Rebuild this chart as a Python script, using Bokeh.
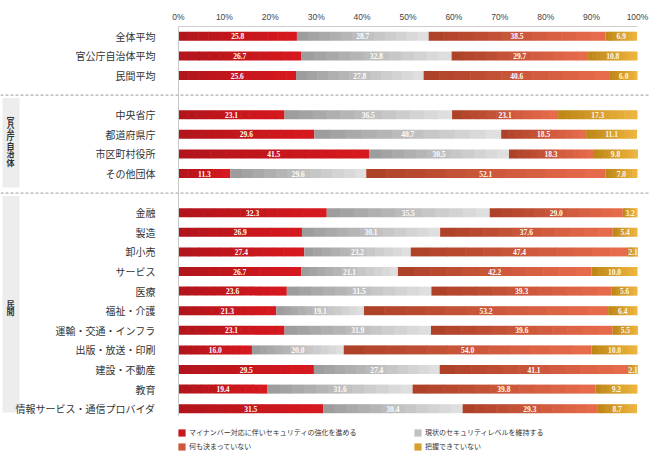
import numpy as np
from bokeh.plotting import figure
from bokeh.models import ColumnDataSource, FixedTicker, Range1d, Legend, LegendItem
from bokeh.core.properties import value
from bokeh.embed import file_html
from bokeh.resources import INLINE

# ---------------- data ----------------
categories = ["全体平均", "官公庁自治体平均", "民間平均",
              "中央省庁", "都道府県庁", "市区町村役所", "その他団体",
              "金融", "製造", "卸小売", "サービス", "医療", "福祉・介護",
              "運輸・交通・インフラ", "出版・放送・印刷", "建設・不動産", "教育",
              "情報サービス・通信プロバイダ"]
group_sizes = [3, 4, 11]
group_names = [None, "官公庁自治体", "民間"]

series_names = ["マイナンバー対応に伴いセキュリティの強化を進める",
                "現状のセキュリティレベルを維持する",
                "何も決まっていない",
                "把握できていない"]
strengthen = [25.8, 26.7, 25.6, 23.1, 29.6, 41.5, 11.3, 32.3, 26.9, 27.4, 26.7, 23.6, 21.3, 23.1, 16.0, 29.5, 19.4, 31.5]
maintain   = [28.7, 32.8, 27.8, 36.5, 40.7, 30.5, 29.6, 35.5, 30.1, 23.2, 21.1, 31.5, 19.1, 31.9, 20.0, 27.4, 31.6, 30.4]
undecided  = [38.5, 29.7, 40.6, 23.1, 18.5, 18.3, 52.1, 29.0, 37.6, 47.4, 42.2, 39.3, 53.2, 39.6, 54.0, 41.1, 39.8, 29.3]
unknown    = [6.9, 10.8, 6.0, 17.3, 11.1, 9.8, 7.0, 3.2, 5.4, 2.1, 10.0, 5.6, 6.4, 5.5, 10.0, 2.1, 9.2, 8.7]
series_values = [strengthen, maintain, undecided, unknown]

x_ticks = [0, 10, 20, 30, 40, 50, 60, 70, 80, 90, 100]
x_tick_labels = ["0%", "10%", "20%", "30%", "40%", "50%", "60%", "70%", "80%", "90%", "100%"]

# ---------------- styles / layout constants ----------------
grad_left = ["#b0151b", "#9a9a9a", "#ab4027", "#bc8515"]
grad_right = ["#d8181f", "#e2e2e2", "#e96d4d", "#efb640"]
label_colors = ["#ffffff", "#ffffff", "#ffffff", "#fff8e8"]

W, H = 650, 458
TOP = 26            # height of the top axis panel
PLOT_L, PLOT_R = 178, 637   # pixel span of 0%..100%
ROW_PX = 19.6
CHAR_PX = 8.4       # pitch of the stacked vertical group-label characters
px_per_unit = (PLOT_R - PLOT_L) / 100.0
x_start = -PLOT_L / px_per_unit
x_end = 100 + (W - PLOT_R) / px_per_unit
y_top = -0.5
y_bottom = y_top + (H - TOP) / ROW_PX


def px_to_x(px):
    return x_start + px / px_per_unit


# ---------------- row positions ----------------
ypos, gap_positions, group_spans = [], [], []
pos = 0
for size in group_sizes:
    start = pos
    for _ in range(size):
        ypos.append(pos)
        pos += 1
    group_spans.append((start, pos - 1))
    gap_positions.append(pos)
    pos += 1
gap_positions = gap_positions[:-1]

p = figure(width=W, height=H,
           x_range=Range1d(x_start, x_end), y_range=Range1d(y_bottom, y_top),
           x_axis_location="above", y_axis_location=None,
           toolbar_location=None, output_backend="svg",
           min_border_left=0, min_border_right=0, min_border_top=TOP, min_border_bottom=0)
p.outline_line_color = None
p.xgrid.visible = False
p.ygrid.visible = False


def hex2rgb(h):
    h = h.lstrip("#")
    return np.array([int(h[i:i + 2], 16) for i in (0, 2, 4)], dtype=float)


def rgb2hex(c):
    return "#%02x%02x%02x" % tuple(int(round(v)) for v in c)


# ---------------- group strips & separators ----------------
for name, (a, b) in zip(group_names, group_spans):
    if name is None:
        continue
    bottom = b + 0.72 if b < ypos[-1] else b + 0.2
    p.quad(left=[px_to_x(2)], right=[px_to_x(19)], top=[a - 0.85], bottom=[bottom],
           fill_color="#ededed", line_color=None)
    n = len(name)
    centre = (a + b) / 2 - 0.15
    step = CHAR_PX / ROW_PX
    cy = [centre + (j - (n - 1) / 2) * step for j in range(n)]
    p.text(x=[px_to_x(10)] * n, y=cy, text=list(name),
           text_align="center", text_baseline="middle",
           text_font=value("Noto Sans CJK JP"), text_font_size="8px",
           text_font_style="bold", text_color="#333333")

p.segment(x0=[x_start] * len(gap_positions), x1=[x_end] * len(gap_positions),
          y0=gap_positions, y1=gap_positions,
          line_color="#9a9a9a", line_dash="3 2", line_width=1)

# ---------------- stacked bars with per-segment gradient ----------------
K = 12
BAR_H = 0.46
cum = np.zeros(len(categories))
renderers = []
text_x, text_y, text_s, text_c = [], [], [], []
for s, vals in enumerate(series_values):
    vals = np.array(vals, dtype=float)
    cl, cr = hex2rgb(grad_left[s]), hex2rgb(grad_right[s])
    lefts, rights, ys, cols = [], [], [], []
    for k in range(K):
        col = rgb2hex(cl + (cr - cl) * (k + 0.5) / K)
        for i, v in enumerate(vals):
            a = cum[i] + v * k / K
            b = cum[i] + v * (k + 1) / K
            if k < K - 1:
                b += 0.12
            lefts.append(a)
            rights.append(b)
            ys.append(ypos[i])
            cols.append(col)
    src = ColumnDataSource(dict(left=lefts, right=rights, y=ys, color=cols))
    r = p.hbar(y="y", left="left", right="right", height=BAR_H, source=src,
               fill_color="color", line_color=None)
    renderers.append(r)
    for i, v in enumerate(vals):
        text_x.append(cum[i] + v / 2)
        text_y.append(ypos[i])
        text_s.append(f"{v:.1f}")
        text_c.append(label_colors[s])
    cum += vals

tsrc = ColumnDataSource(dict(x=text_x, y=text_y, text=text_s, color=text_c))
p.text(x="x", y="y", text="text", source=tsrc, text_color="color",
       text_font=value("Liberation Sans Narrow"), text_font_size="7.5px",
       text_font_style="bold", text_align="center", text_baseline="middle")

# vertical base line at 0%
p.segment(x0=[0], x1=[0], y0=[y_top], y1=[ypos[-1] + 0.35], line_color="#c8c8c8", line_width=1)

# category labels
p.text(x=[0] * len(categories), y=ypos, text=categories, x_offset=-23,
       text_align="right", text_baseline="middle",
       text_font=value("Noto Sans CJK JP"), text_font_size="10px", text_color="#333333")

# ---------------- top axis ----------------
xa = p.xaxis[0]
xa.ticker = FixedTicker(ticks=x_ticks)
xa.bounds = (0, 100)
xa.major_label_overrides = {t: l for t, l in zip(x_ticks, x_tick_labels)}
xa.major_tick_line_color = None
xa.minor_tick_line_color = None
xa.major_tick_out = 0
xa.major_tick_in = 0
xa.minor_tick_out = 0
xa.axis_line_color = "#cccccc"
xa.major_label_text_font = "Liberation Sans"
xa.major_label_text_font_size = "8.5px"
xa.major_label_text_color = "#444444"
xa.major_label_standoff = 5

# ---------------- legend ----------------
items = [LegendItem(label=series_names[s], renderers=[renderers[s]], index=len(categories) * (K // 2))
         for s in range(4)]
legend = Legend(items=items, location=(PLOT_L - 1, 7), orientation="horizontal", ncols=2,
                glyph_width=9, glyph_height=9, label_height=9, label_width=220,
                label_standoff=3, spacing=4, padding=0, margin=0,
                label_text_font="Noto Sans CJK JP", label_text_font_size="7px",
                label_text_color="#333333", border_line_color=None,
                background_fill_alpha=0)
p.add_layout(legend, "center")

open("out.html", "w").write(file_html(p, INLINE))
